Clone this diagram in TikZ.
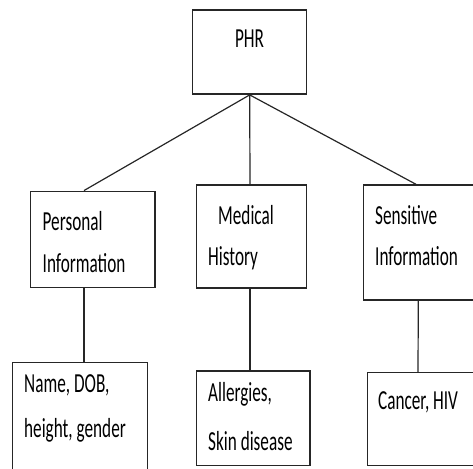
\documentclass[tikz,border=0pt]{standalone}
\usepackage{graphicx}
\usepackage{fontspec}
\setmainfont{Carlito}
\newcommand\tx[1]{\scalebox{1}[1.6]{#1}}
\tikzset{
  box/.style={draw=black!85, line width=1.4pt, rectangle, inner sep=0pt},
  conn/.style={draw=black!85, line width=1.2pt},
  lbl/.style={anchor=base west, inner sep=0pt, font=\fontsize{17.2}{20}\selectfont}
}
\begin{document}
\begin{tikzpicture}[x=1pt,y=-1pt]
\useasboundingbox (0,0) rectangle (473,468);
\clip (0,0) rectangle (473,468);
% boxes
\node[box, minimum width=114pt, minimum height=84pt] (phr) at (249.7,52.2) {};
\node[box, minimum width=124.3pt, minimum height=96.5pt] (pi) at (92.8,239.5) {};
\node[box, minimum width=110pt, minimum height=103pt] (mh) at (251.7,236.4) {};
\node[box, minimum width=115pt, minimum height=115pt] (si) at (421,242.5) {};
\node[box, minimum width=135pt, minimum height=112pt] (nd) at (80.2,418.3) {};
\node[box, minimum width=113.3pt, minimum height=94.7pt] (al) at (253.3,418.4) {};
\node[box, minimum width=112pt, minimum height=93pt] (ch) at (423.3,419.2) {};
% connectors
\draw[conn] (phr.south) -- ([xshift=-8.8pt]pi.north);
\draw[conn] (phr.south) -- ([xshift=-1.7pt]mh.north);
\draw[conn] (phr.south) -- ([xshift=-5pt]si.north);
\draw[conn] ([xshift=-8.8pt]pi.south) -- ([xshift=3.8pt]nd.north);
\draw[conn] ([xshift=-1.7pt]mh.south) -- ([xshift=-3.3pt]al.north);
\draw[conn] ([xshift=-2.7pt]si.south) -- ([xshift=-5.3pt]ch.north);
% texts
\node[lbl, anchor=base] (tphr) at (249.5,48) {\tx{PHR}};
\node[lbl] (tpi1) at (42.5,230.5) {\tx{Personal}};
\node[lbl] (tpi2) at (42.5,272) {\tx{Information}};
\node[lbl] (tmh1) at (218,224.5) {\tx{Medical}};
\node[lbl] (tmh2) at (208,265) {\tx{History}};
\node[lbl] (tsi1) at (375,224.5) {\tx{Sensitive}};
\node[lbl] (tsi2) at (375,265.5) {\tx{Information}};
\node[lbl] (tnd1) at (24,392) {\tx{Name, DOB,}};
\node[lbl] (tnd2) at (24,437) {\tx{height, gender}};
\node[lbl] (tal1) at (208,401.5) {\tx{Allergies,}};
\node[lbl] (tal2) at (208,450) {\tx{Skin disease}};
\node[lbl] (tch1) at (378,409) {\tx{Cancer, HIV}};
\end{tikzpicture}
\end{document}
